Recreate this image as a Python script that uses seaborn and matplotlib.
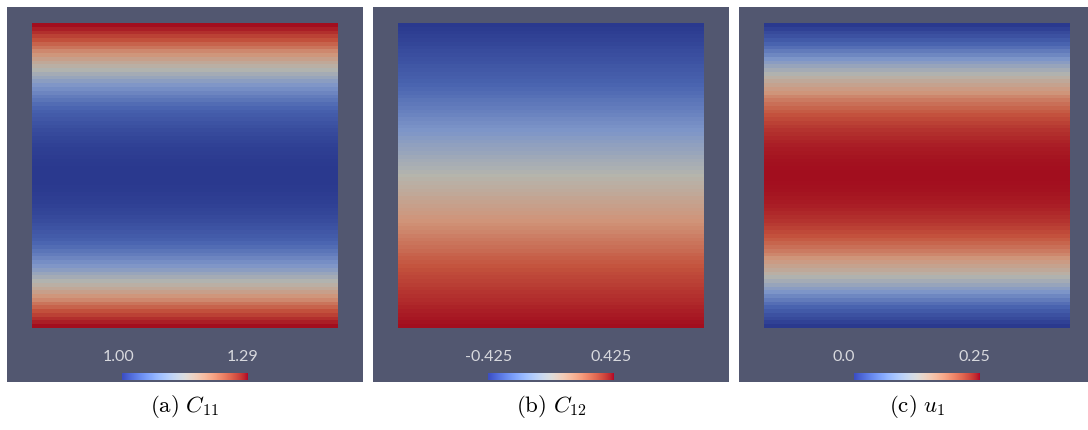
import matplotlib
matplotlib.use("Agg")
import matplotlib.pyplot as plt
from matplotlib.colors import LinearSegmentedColormap, Normalize
from matplotlib.cm import ScalarMappable
import pandas as pd
import seaborn as sns

# row values of each field, top row first
c11_rows = [1.290, 1.276, 1.262, 1.248, 1.235, 1.222, 1.210, 1.197, 1.186, 1.174,
            1.163, 1.152, 1.142, 1.132, 1.123, 1.113, 1.104, 1.096, 1.088, 1.080,
            1.073, 1.065, 1.059, 1.052, 1.046, 1.041, 1.036, 1.031, 1.026, 1.022,
            1.018, 1.015, 1.012, 1.009, 1.007, 1.005, 1.003, 1.002, 1.001, 1.000,
            1.000,
            1.000, 1.001, 1.002, 1.003, 1.005, 1.007, 1.009, 1.012, 1.015, 1.018,
            1.022, 1.026, 1.031, 1.036, 1.041, 1.046, 1.052, 1.059, 1.065, 1.073,
            1.080, 1.088, 1.096, 1.104, 1.113, 1.123, 1.132, 1.142, 1.152, 1.163,
            1.174, 1.186, 1.197, 1.210, 1.222, 1.235, 1.248, 1.262, 1.276, 1.290]
c12_rows = [-0.425, -0.414, -0.404, -0.393, -0.382, -0.372, -0.361, -0.351, -0.340, -0.329,
            -0.319, -0.308, -0.298, -0.287, -0.276, -0.266, -0.255, -0.244, -0.234, -0.223,
            -0.212, -0.202, -0.191, -0.181, -0.170, -0.159, -0.149, -0.138, -0.128, -0.117,
            -0.106, -0.096, -0.085, -0.074, -0.064, -0.053, -0.042, -0.032, -0.021, -0.011,
            0.000,
            0.011, 0.021, 0.032, 0.042, 0.053, 0.064, 0.074, 0.085, 0.096, 0.106,
            0.117, 0.128, 0.138, 0.149, 0.159, 0.170, 0.181, 0.191, 0.202, 0.212,
            0.223, 0.234, 0.244, 0.255, 0.266, 0.276, 0.287, 0.298, 0.308, 0.319,
            0.329, 0.340, 0.351, 0.361, 0.372, 0.382, 0.393, 0.404, 0.414, 0.425]
u1_rows = [0.000, 0.010, 0.020, 0.029, 0.039, 0.049, 0.058, 0.068, 0.077, 0.087,
           0.096, 0.105, 0.114, 0.122, 0.131, 0.139, 0.147, 0.155, 0.162, 0.170,
           0.177, 0.184, 0.190, 0.196, 0.202, 0.208, 0.213, 0.218, 0.223, 0.227,
           0.231, 0.235, 0.238, 0.241, 0.243, 0.245, 0.247, 0.248, 0.249, 0.250,
           0.250,
           0.250, 0.249, 0.248, 0.247, 0.245, 0.243, 0.241, 0.238, 0.235, 0.231,
           0.227, 0.223, 0.218, 0.213, 0.208, 0.202, 0.196, 0.190, 0.184, 0.177,
           0.170, 0.162, 0.155, 0.147, 0.139, 0.131, 0.122, 0.114, 0.105, 0.096,
           0.087, 0.077, 0.068, 0.058, 0.049, 0.039, 0.029, 0.020, 0.010, 0.000]

field_names = ["C11", "C12", "u1"]
range_min = [1.00, -0.425, 0.0]
range_max = [1.29, 0.425, 0.25]
range_labels = [("1.00", "1.29"), ("-0.425", "0.425"), ("0.0", "0.25")]
captions = [r"$\mathrm{(a)}\ C_{11}$", r"$\mathrm{(b)}\ C_{12}$", r"$\mathrm{(c)}\ u_{1}$"]

W, H = 1088, 430
BG = "#525770"

sns.set_theme(style="white")
plt.rcParams["mathtext.fontset"] = "cm"
plt.rcParams["font.family"] = ["Lato", "DejaVu Sans"]

# shaded (lit) surface colours look darker than the bar legend
field_cmap = LinearSegmentedColormap.from_list(
    "lit_coolwarm",
    [(0.0, "#2a398e"), (0.2, "#4a64b0"), (0.35, "#7d95c8"), (0.5, "#b5b5ad"),
     (0.65, "#d09479"), (0.8, "#c4543e"), (1.0, "#a20e1e")],
)


def box(x0, y0, x1, y1):
    return [x0 / W, 1 - y1 / H, (x1 - x0) / W, (y1 - y0) / H]


fig = plt.figure(figsize=(W / 100, H / 100), dpi=100, facecolor="white")

panel_left = [7, 373, 739]
label_shift = [(-3, -5), (1, -3), (-10, -6)]
fields = [c11_rows, c12_rows, u1_rows]

for k, rows in enumerate(fields):
    px = panel_left[k]
    bg = fig.add_axes(box(px, 7, px + 356, 382))
    bg.set_facecolor(BG)
    bg.set_xticks([])
    bg.set_yticks([])
    for s in bg.spines.values():
        s.set_visible(False)

    ax = fig.add_axes(box(px + 25, 23, px + 331, 328))
    df = pd.DataFrame({field_names[k]: rows})
    sns.heatmap(df, ax=ax, cmap=field_cmap, vmin=range_min[k], vmax=range_max[k],
                cbar=False, xticklabels=False, yticklabels=False)

    cb_x0, cb_x1 = px + 115, px + 241
    cax = fig.add_axes(box(cb_x0, 373, cb_x1, 380))
    sm = ScalarMappable(norm=Normalize(range_min[k], range_max[k]), cmap="coolwarm")
    cb = fig.colorbar(sm, cax=cax, orientation="horizontal")
    cb.outline.set_visible(False)
    cax.set_xticks([])

    lo, hi = range_labels[k]
    for lab, xx in [(lo, cb_x0 + label_shift[k][0]), (hi, cb_x1 + label_shift[k][1])]:
        fig.text(xx / W, 1 - 357 / H, lab, ha="center", va="center",
                 color="#d8d9de", fontsize=11.5)

    fig.text((px + 178) / W, 1 - 407 / H, captions[k], ha="center", va="center",
             color="black", fontsize=16.5)

fig.savefig("out.png", dpi=100, facecolor="white")
